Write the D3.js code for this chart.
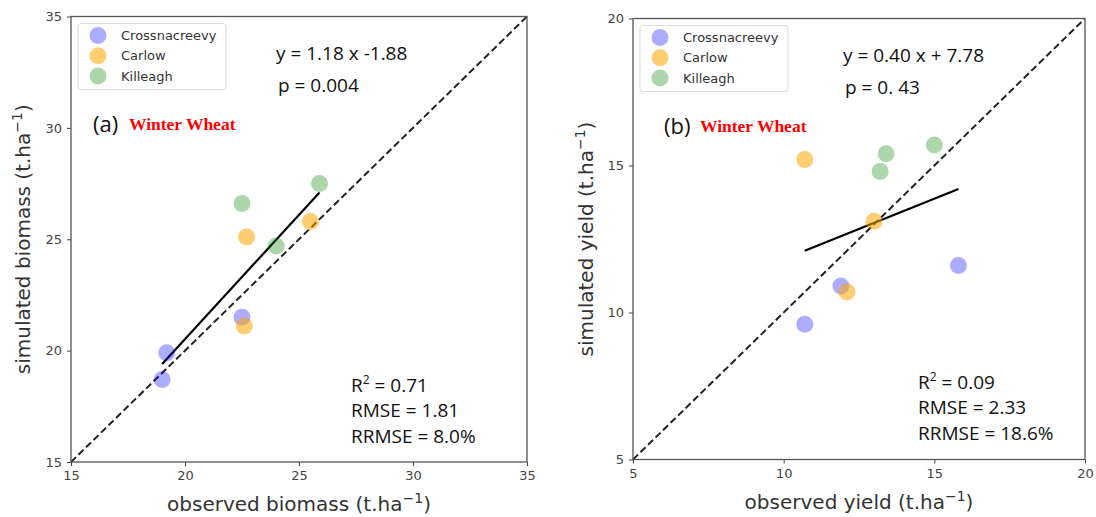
<!DOCTYPE html>
<html>
<head>
<meta charset="utf-8">
<script src="https://cdn.jsdelivr.net/npm/d3@7"></script>
<style>
  body { margin: 0; background: #fff; }
  svg { display: block; }
  .tick text { font-family: 'DejaVu Sans', sans-serif; font-size: 13px; fill: #444; }
</style>
</head>
<body>
<div class="chart"></div>
<script>
// sites shown in both panels
var sites = ['Crossnacreevy', 'Carlow', 'Killeagh'];
var siteColors = ['#0000ff', '#ffa500', '#008000'];
var siteAlpha = [0.32, 0.55, 0.32];

// panel (a) biomass, observed vs simulated (t/ha)
var biomassObs = [
  [19.2, 19.0, 22.5],   // Crossnacreevy
  [22.7, 22.6, 25.5],   // Carlow
  [22.5, 24.0, 25.9]    // Killeagh
];
var biomassSim = [
  [19.9, 18.7, 21.5],
  [25.1, 21.1, 25.8],
  [26.6, 24.7, 27.5]
];
var biomassFit = [[19.0, 19.4], [25.9, 27.1]];
var biomassTicks = [15, 20, 25, 30, 35];

// panel (b) grain yield
var yieldObs = [
  [10.7, 11.9, 15.8],
  [10.7, 12.1, 13.0],
  [13.2, 13.4, 15.0]
];
var yieldSim = [
  [9.6, 10.9, 11.6],
  [15.2, 10.7, 13.1],
  [14.8, 15.4, 15.7]
];
var yieldFit = [[10.7, 12.1], [15.8, 14.2]];
var yieldTicks = [5, 10, 15, 20];

var svg = d3.select('.chart')
  .append('svg')
    .attr('width', 1096)
    .attr('height', 517);

function drawPanel(p) {
  var g = svg.append('g')
    .attr('transform', `translate(${p.left}, ${p.top})`);

  var x = d3.scaleLinear().domain(p.domain).range([0, p.width]);
  var y = d3.scaleLinear().domain(p.domain).range([p.height, 0]);

  // axes
  var xAxis = d3.axisBottom(x).tickValues(p.ticks).tickSize(4).tickPadding(5);
  var yAxis = d3.axisLeft(y).tickValues(p.ticks).tickSize(4).tickPadding(5);

  g.append('g')
    .attr('transform', `translate(0, ${p.height})`)
    .call(xAxis)
    .call(a => a.select('.domain').remove());
  g.append('g')
    .call(yAxis)
    .call(a => a.select('.domain').remove());
  g.selectAll('.tick line').attr('stroke', '#444');

  // 1:1 line
  g.append('line')
    .attr('x1', x(p.domain[0])).attr('y1', y(p.domain[0]))
    .attr('x2', x(p.domain[1])).attr('y2', y(p.domain[1]))
    .attr('stroke', '#222')
    .attr('stroke-width', 2)
    .attr('stroke-dasharray', '7,3.5');

  // regression line
  g.append('line')
    .attr('x1', x(p.fit[0][0])).attr('y1', y(p.fit[0][1]))
    .attr('x2', x(p.fit[1][0])).attr('y2', y(p.fit[1][1]))
    .attr('stroke', '#000')
    .attr('stroke-width', 2.2);

  // points
  sites.forEach(function(s, i) {
    g.selectAll('.pt' + i)
      .data(d3.zip(p.obs[i], p.sim[i]))
      .enter().append('circle')
        .attr('cx', d => x(d[0]))
        .attr('cy', d => y(d[1]))
        .attr('r', 8.5)
        .attr('fill', siteColors[i])
        .attr('fill-opacity', siteAlpha[i]);
  });

  // frame
  g.append('rect')
    .attr('width', p.width)
    .attr('height', p.height)
    .attr('fill', 'none')
    .attr('stroke', '#555')
    .attr('stroke-width', 1.3);

  // legend
  var lg = g.append('g').attr('transform', 'translate(7, 7)');
  lg.append('rect')
    .attr('width', 148).attr('height', 66).attr('rx', 3)
    .attr('fill', '#fff').attr('fill-opacity', 0.8)
    .attr('stroke', '#ddd');
  sites.forEach(function(s, i) {
    lg.append('circle')
      .attr('cx', 20).attr('cy', 12 + i * 20.3).attr('r', 8.5)
      .attr('fill', siteColors[i]).attr('fill-opacity', siteAlpha[i]);
    lg.append('text')
      .attr('x', 43).attr('y', 12 + i * 20.3)
      .attr('dy', '0.35em')
      .style('font-family', 'DejaVu Sans, sans-serif')
      .style('font-size', '13px')
      .style('fill', '#333')
      .text(s);
  });

  var calib = { 'font-family': 'Open Sans, sans-serif', 'font-size': '19px', 'fill': '#111' };
  function txt(tx, ty, str) {
    var t = g.append('text').attr('x', tx).attr('y', ty);
    Object.keys(calib).forEach(k => t.style(k, calib[k]));
    t.text(str);
    return t;
  }

  txt(p.eqX, 43, p.eq);
  txt(p.eqX + 2, 75, p.pval);

  txt(p.tagX, 115, p.tag).style('font-size', '22px');
  g.append('text')
    .attr('x', p.tagX + p.wwDx).attr('y', 113)
    .style('font-family', 'Liberation Serif, serif')
    .style('font-weight', 'bold')
    .style('font-size', '17.5px')
    .style('fill', '#ff0000')
    .text('Winter Wheat');

  var r2 = g.append('text').attr('x', p.statX).attr('y', p.statY);
  Object.keys(calib).forEach(k => r2.style(k, calib[k]));
  r2.append('tspan').text('R');
  r2.append('tspan').attr('dy', -8).style('font-size', '12px').text('2');
  r2.append('tspan').attr('dy', 8).text(' = ' + p.r2);
  txt(p.statX, p.statY + 25.5, 'RMSE = ' + p.rmse);
  txt(p.statX, p.statY + 51, 'RRMSE = ' + p.rrmse);

  // axis titles
  var xl = g.append('text')
    .attr('x', p.width / 2).attr('y', p.height + 49)
    .attr('text-anchor', 'middle')
    .style('font-family', 'DejaVu Sans, sans-serif')
    .style('font-size', '20px')
    .style('fill', '#333');
  xl.append('tspan').text(p.xlab + ' (t.ha');
  xl.append('tspan').attr('dy', -8).style('font-size', '14px').text('\u22121');
  xl.append('tspan').attr('dy', 8).text(')');

  var yl = g.append('text')
    .attr('transform', `translate(${p.ylabX}, ${p.height / 2}) rotate(-90)`)
    .attr('text-anchor', 'middle')
    .style('font-family', 'DejaVu Sans, sans-serif')
    .style('font-size', '20px')
    .style('fill', '#333');
  yl.append('tspan').text(p.ylab + ' (t.ha');
  yl.append('tspan').attr('dy', -8).style('font-size', '14px').text('\u22121');
  yl.append('tspan').attr('dy', 8).text(')');
}

drawPanel({
  left: 71, top: 16.5, width: 456, height: 445.5,
  domain: [15, 35], ticks: biomassTicks,
  obs: biomassObs, sim: biomassSim, fit: biomassFit,
  eq: 'y = 1.18 x -1.88', pval: 'p = 0.004', eqX: 205,
  tag: '(a)', tagX: 22, wwDx: 36,
  r2: '0.71', rmse: '1.81', rrmse: '8.0%', statX: 280, statY: 375,
  xlab: 'observed biomass', ylab: 'simulated biomass', ylabX: -41
});

drawPanel({
  left: 633, top: 18.5, width: 452, height: 441,
  domain: [5, 20], ticks: yieldTicks,
  obs: yieldObs, sim: yieldSim, fit: yieldFit,
  eq: 'y = 0.40 x + 7.78', pval: 'p = 0. 43', eqX: 210,
  tag: '(b)', tagX: 31, wwDx: 36,
  r2: '0.09', rmse: '2.33', rrmse: '18.6%', statX: 285, statY: 370,
  xlab: 'observed yield', ylab: 'simulated yield', ylabX: -40
});
</script>
</body>
</html>
